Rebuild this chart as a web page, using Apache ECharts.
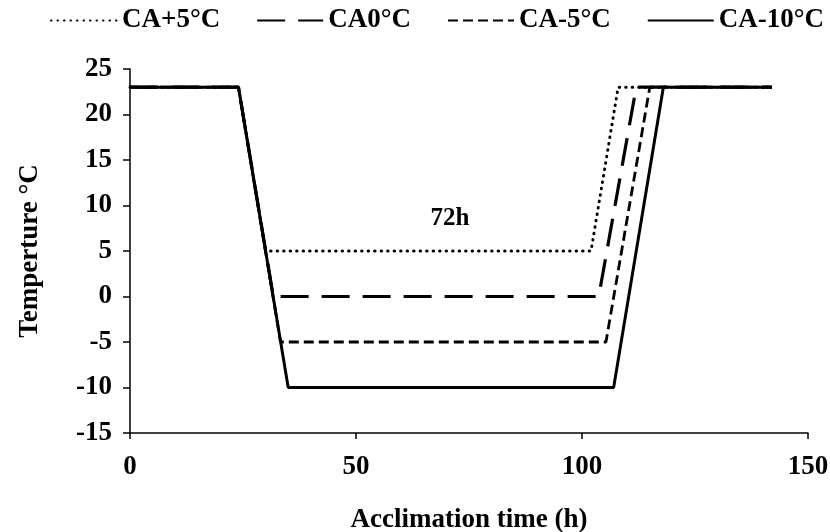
<!DOCTYPE html>
<html><head><meta charset="utf-8">
<script src="https://cdn.jsdelivr.net/npm/echarts@6/dist/echarts.min.js"></script>
<style>html,body{margin:0;padding:0;background:#fff}#c{width:830px;height:532px}</style>
</head><body><div id="c"></div>
<script>
const seriesNames = ['CA+5°C', 'CA0°C', 'CA-5°C', 'CA-10°C'];
const caPlus5 = [[0,23],[24,23],[30,5],[102,5],[108,23],[142,23]];
const ca0 = [[0,23],[24,23],[31.7,0],[103.7,0],[112,23],[142,23]];
const caMinus5 = [[0,23],[24,23],[33.3,-5],[105.3,-5],[115,23],[142,23]];
const caMinus10 = [[0,23],[24,23],[35,-10],[107,-10],[118,23],[142,23]];
const annotation = {text: '72h', x: 70.8, y: 8.6};
const xTicks = {min: 0, max: 150, interval: 50};
const yTicks = {min: -15, max: 25, interval: 5};

const font = '"Liberation Serif", "Times New Roman", serif';
const FS = 27;
const styles = [
  {type: [0.5, 6], width: 3, cap: 'round'},
  {type: [28, 13], width: 3.2},
  {type: [10, 5], width: 2.8},
  {type: 'solid', width: 3}
];
const datas = [caPlus5, ca0, caMinus5, caMinus10];
const series = datas.map((d, i) => ({
  name: seriesNames[i], type: 'line', data: d, symbol: 'none', showSymbol: false,
  lineStyle: Object.assign({color: '#000'}, styles[i]),
  itemStyle: {color: '#000'}, z: 10 - i, animation: false
}));
const chart = echarts.init(document.getElementById('c'));
chart.setOption({
  backgroundColor: '#fff',
  animation: false,
  legend: {
    data: seriesNames.map(n => ({name: n})), top: 2, left: 45, itemWidth: 66, itemHeight: 14, itemGap: 36,
    itemStyle: {opacity: 0},
    textStyle: {fontFamily: font, fontWeight: 'bold', fontSize: FS, color: '#000'}
  },
  grid: {left: 130, right: 22, top: 69, bottom: 99, containLabel: false, outerBoundsMode: 'none'},
  xAxis: {
    type: 'value', min: xTicks.min, max: xTicks.max, interval: xTicks.interval,
    name: 'Acclimation time (h)', nameLocation: 'middle', nameGap: 74,
    nameTextStyle: {fontFamily: font, fontWeight: 'bold', fontSize: FS, color: '#000'},
    axisLine: {onZero: false, lineStyle: {color: '#000', width: 1.5}},
    axisTick: {show: true, inside: false, length: 6, lineStyle: {color: '#000', width: 1.5}},
    axisLabel: {fontFamily: font, fontWeight: 'bold', fontSize: FS, color: '#000', margin: 21},
    splitLine: {show: false}
  },
  yAxis: {
    type: 'value', min: yTicks.min, max: yTicks.max, interval: yTicks.interval,
    name: 'Temperture °C', nameLocation: 'middle', nameGap: 86, nameRotate: 90,
    nameTextStyle: {fontFamily: font, fontWeight: 'bold', fontSize: FS, color: '#000'},
    axisLine: {show: true, onZero: false, lineStyle: {color: '#000', width: 1.5}},
    axisTick: {show: true, inside: false, length: 7, lineStyle: {color: '#000', width: 1.5}},
    axisLabel: {fontFamily: font, fontWeight: 'bold', fontSize: FS, color: '#000', margin: 18},
    splitLine: {show: false}
  },
  series: series
});
const p = chart.convertToPixel({gridIndex: 0}, [annotation.x, annotation.y]);
chart.setOption({
  graphic: [{
    type: 'text', x: p[0], y: p[1], z: 100,
    style: {text: annotation.text, fill: '#000', font: 'bold 25px ' + font,
      textAlign: 'center', textVerticalAlign: 'middle'}
  }]
});
</script></body></html>
